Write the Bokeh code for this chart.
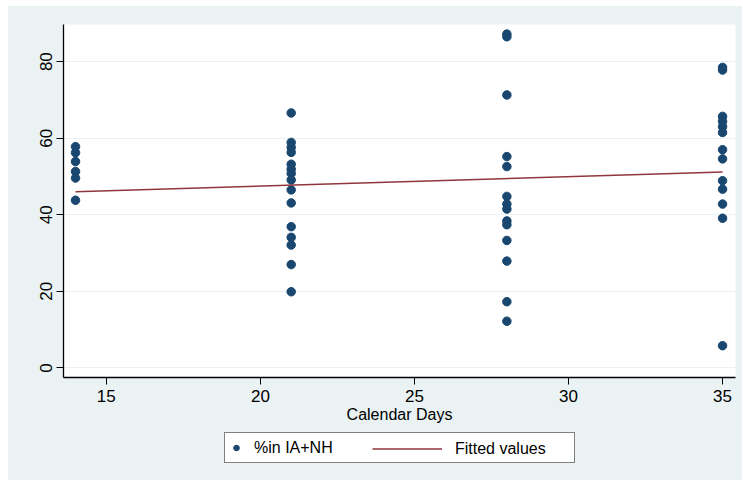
import numpy as np
from bokeh.plotting import figure
from bokeh.layouts import column
from bokeh.models import Range1d, Legend, LegendItem, FixedTicker
from bokeh.embed import file_html
from bokeh.resources import INLINE

# Data: % in IA+NH by calendar days
days = [14, 21, 28, 35]
pct_14 = [57.8, 56.2, 53.9, 51.3, 49.6, 43.8]
pct_21 = [66.6, 58.9, 57.6, 56.3, 53.2, 51.9, 50.8, 49.1, 46.5, 43.1, 36.9, 34.1, 32.1, 27.0, 19.9]
pct_28 = [87.2, 86.5, 71.3, 55.2, 52.6, 44.8, 42.8, 41.5, 38.4, 37.4, 33.3, 27.9, 17.3, 12.2]
pct_35 = [78.5, 77.8, 65.7, 64.4, 63.0, 61.5, 57.0, 54.6, 48.9, 46.7, 42.8, 39.1, 5.8]
x_ticks = [15, 20, 25, 30, 35]
y_ticks = [0, 20, 40, 60, 80]
series_label = "%in IA+NH"
fit_label = "Fitted values"

groups = [pct_14, pct_21, pct_28, pct_35]
xs = []
ys = []
for d, g in zip(days, groups):
    xs += [d] * len(g)
    ys += g
xs = np.array(xs, dtype=float)
ys = np.array(ys, dtype=float)
slope, intercept = np.polyfit(xs, ys, 1)
fit_x = [min(days), max(days)]
fit_y = [intercept + slope * v for v in fit_x]

BG = "#EAF2F3"
NAVY = "#1A476F"
MAROON = "#90353B"
FONT = "Liberation Sans"

# ---- main plot ----
p = figure(width=734, height=420, output_backend="svg", toolbar_location=None,
           x_range=Range1d(13.61, 35.42), y_range=Range1d(-2.5, 89.7),
           min_border_left=55, min_border_top=18, min_border_right=7, min_border_bottom=49,
           background_fill_color="white", border_fill_color=BG, outline_line_color=None)

sc = p.scatter(xs, ys, size=8.5, color=NAVY, line_color=NAVY)
ln = p.line(fit_x, fit_y, line_color=MAROON, line_width=1.5)

p.xgrid.grid_line_color = None
p.ygrid.grid_line_color = BG
p.ygrid.grid_line_width = 1.2

for ax in (p.xaxis[0], p.yaxis[0]):
    ax.axis_line_color = "black"
    ax.axis_line_width = 1.3
    ax.major_tick_line_color = "black"
    ax.major_tick_out = 7
    ax.major_tick_in = 0
    ax.minor_tick_line_color = None
    ax.major_label_text_font = FONT
    ax.major_label_text_font_size = "17px"
    ax.major_label_text_color = "black"

p.xaxis.ticker = FixedTicker(ticks=x_ticks)
p.yaxis.ticker = FixedTicker(ticks=y_ticks)
p.yaxis.major_label_orientation = "vertical"
p.xaxis.major_label_standoff = 5
p.yaxis.major_label_standoff = 4
p.xaxis.axis_label = "Calendar Days"
p.xaxis.axis_label_text_font = FONT
p.xaxis.axis_label_text_font_style = "normal"
p.xaxis.axis_label_text_font_size = "16px"
p.xaxis.axis_label_text_color = "black"
p.xaxis.axis_label_standoff = 1

# ---- legend strip (same series, ranges keep the data out of view) ----
lg = figure(width=734, height=54, output_backend="svg", toolbar_location=None,
            x_range=Range1d(0, 1), y_range=Range1d(0, 1),
            x_axis_location=None, y_axis_location=None,
            min_border_left=55, min_border_right=7, min_border_top=0, min_border_bottom=0,
            background_fill_color=BG, border_fill_color=BG, outline_line_color=None)
lg.grid.visible = False
lsc = lg.scatter(xs, ys, size=7.5, color=NAVY, line_color=NAVY)
lln = lg.line(fit_x, fit_y, line_color=MAROON, line_width=1.5)

common = dict(orientation="horizontal", label_text_font=FONT,
              label_text_font_size="16px", label_text_color="black",
              glyph_height=21, margin=0, padding=4)
# outer box (carries the frame of the whole legend)
leg_a = Legend(items=[LegendItem(label=series_label, renderers=[lsc])],
               location=(161, 17), glyph_width=14, label_standoff=11,
               label_width=316,
               border_line_color="black", border_line_width=1,
               background_fill_color="white", background_fill_alpha=1, **common)
leg_b = Legend(items=[LegendItem(label=fit_label, renderers=[lln])],
               location=(309, 21), glyph_width=70, label_standoff=13,
               border_line_color=None, background_fill_alpha=0, **common)
lg.add_layout(leg_a, "center")
lg.add_layout(leg_b, "center")

layout = column(p, lg, spacing=0)
layout.margin = (6, 1, 3, 8)
layout.styles = {"background-color": BG}

open("out.html", "w").write(file_html(layout, INLINE))
